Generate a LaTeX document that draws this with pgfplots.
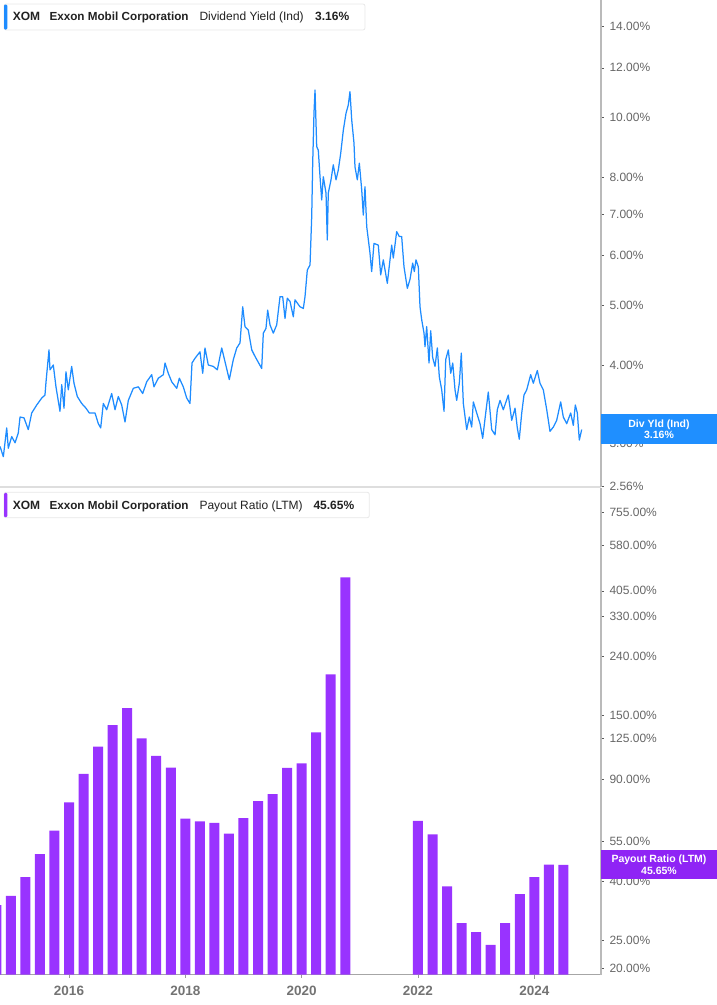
\documentclass[border=0pt]{standalone}
\usepackage{fontspec}
\setmainfont{Liberation Sans}
\usepackage{pgfplots}
\pgfplotsset{compat=1.18}
\definecolor{lineblue}{HTML}{1E8CFF}
\definecolor{boxblue}{HTML}{1F8FFF}
\definecolor{barpurple}{HTML}{9933FF}
\definecolor{boxpurple}{HTML}{8F24F5}
\definecolor{ticktext}{HTML}{666666}
\definecolor{legtext}{HTML}{222222}

\pgfplotsset{
  panel/.style={
    scale only axis, width=601pt,
    xmin=2014.8136, xmax=2025.147,
    axis y line*=right,
    axis x line*=bottom,
    tick align=outside,
    major tick length=3pt,
    yticklabel style={font=\fontsize{12}{14}\selectfont, text=ticktext, xshift=2pt},
    ytick style={draw=black!65, line width=0.6pt},
    y axis line style={draw=black!27, line width=1.6pt},
  }
}
\tikzset{lg/.style={anchor=base west, inner sep=0pt, text=legtext, font=\fontsize{12}{14}\selectfont}}

\begin{document}
\begin{tikzpicture}
\useasboundingbox (0pt,0pt) rectangle (717pt,-1005pt);

% dividend yield
\begin{axis}[ymode=log, panel, at={(0pt,0pt)}, anchor=north west, height=487pt,
  ymin=2.557, ymax=15.41,
  xtick=\empty,
  x axis line style={draw=black!13, line width=1.5pt},
  ytick={2.56,3,4,5,6,7,8,10,12,14},
  yticklabels={2.56\%,3.00\%,4.00\%,5.00\%,6.00\%,7.00\%,8.00\%,10.00\%,12.00\%,14.00\%},
  yminorticks=false]
\addplot[lineblue, line width=1.25pt, line join=round] coordinates {
(2014.814,2.97) (2014.871,2.86) (2014.929,3.18) (2014.956,2.95) (2015.015,3.08) (2015.072,3.01)
(2015.128,3.12) (2015.158,3.31) (2015.226,3.30) (2015.300,3.16) (2015.359,3.36) (2015.445,3.46)
(2015.531,3.55) (2015.587,3.59) (2015.605,3.77) (2015.656,4.24) (2015.673,3.94) (2015.730,4.01)
(2015.776,3.70) (2015.845,3.38) (2015.875,3.73) (2015.914,3.42) (2015.948,3.91) (2015.988,3.66)
(2016.046,3.99) (2016.086,3.75) (2016.143,3.57) (2016.218,3.48) (2016.292,3.42) (2016.349,3.36)
(2016.447,3.36) (2016.504,3.23) (2016.545,3.18) (2016.590,3.48) (2016.648,3.40) (2016.734,3.61)
(2016.791,3.40) (2016.848,3.57) (2016.906,3.46) (2016.963,3.25) (2017.020,3.52) (2017.106,3.68)
(2017.192,3.70) (2017.267,3.61) (2017.336,3.77) (2017.422,3.87) (2017.461,3.70) (2017.536,3.82)
(2017.622,3.87) (2017.651,4.04) (2017.707,3.89) (2017.766,3.77) (2017.852,3.68) (2017.897,3.82)
(2017.965,3.70) (2018.024,3.55) (2018.080,3.48) (2018.115,4.04) (2018.166,4.11) (2018.252,4.21)
(2018.299,3.89) (2018.338,4.27) (2018.395,4.01) (2018.481,3.99) (2018.550,3.94) (2018.626,4.27)
(2018.682,4.06) (2018.756,3.80) (2018.825,4.09) (2018.884,4.27) (2018.940,4.35) (2018.987,4.97)
(2019.026,4.62) (2019.083,4.56) (2019.142,4.24) (2019.198,4.14) (2019.313,3.96) (2019.341,4.51)
(2019.387,4.59) (2019.416,4.91) (2019.456,4.65) (2019.513,4.51) (2019.571,4.65) (2019.628,5.16)
(2019.674,5.16) (2019.714,4.76) (2019.753,5.13) (2019.800,5.07) (2019.857,4.79) (2019.886,5.10)
(2019.972,4.97) (2020.029,4.94) (2020.058,5.16) (2020.097,5.69) (2020.144,5.80) (2020.173,6.93)
(2020.190,8.44) (2020.212,10.15) (2020.230,11.06) (2020.259,8.97) (2020.286,8.86) (2020.316,8.03)
(2020.345,7.37) (2020.372,8.03) (2020.419,7.56) (2020.441,6.36) (2020.458,7.56) (2020.505,7.94)
(2020.544,8.39) (2020.591,7.94) (2020.630,8.23) (2020.672,8.76) (2020.717,9.54) (2020.763,10.15)
(2020.802,10.46) (2020.831,10.99) (2020.861,9.90) (2020.900,9.09) (2020.917,8.33) (2020.957,7.94)
(2020.992,8.44) (2021.033,7.65) (2021.060,6.97) (2021.089,7.74) (2021.119,6.68) (2021.175,6.06)
(2021.204,5.66) (2021.244,6.28) (2021.318,6.24) (2021.359,5.59) (2021.404,5.91) (2021.473,5.42)
(2021.548,6.24) (2021.576,5.95) (2021.634,6.56) (2021.679,6.44) (2021.720,6.44) (2021.760,5.76)
(2021.817,5.32) (2021.863,5.50) (2021.909,5.84) (2021.937,5.66) (2021.966,5.91) (2022.006,5.76)
(2022.035,4.97) (2022.064,4.74) (2022.104,4.51) (2022.121,4.29) (2022.150,4.62) (2022.190,4.04)
(2022.219,4.55) (2022.253,4.12) (2022.293,3.99) (2022.333,4.27) (2022.367,3.84) (2022.408,3.66)
(2022.448,3.38) (2022.477,4.09) (2022.522,4.24) (2022.563,3.89) (2022.598,4.04) (2022.637,3.66)
(2022.666,3.52) (2022.711,3.75) (2022.745,4.19) (2022.780,3.48) (2022.838,3.16) (2022.883,3.31)
(2022.924,3.19) (2022.952,3.50) (2023.010,3.36) (2023.067,3.23) (2023.113,3.06) (2023.153,3.29)
(2023.209,3.63) (2023.268,3.16) (2023.325,3.10) (2023.364,3.40) (2023.411,3.52) (2023.467,3.40)
(2023.553,3.59) (2023.612,3.27) (2023.669,3.42) (2023.708,3.18) (2023.742,3.05) (2023.784,3.36)
(2023.823,3.59) (2023.870,3.66) (2023.938,3.87) (2023.983,3.75) (2024.052,3.93) (2024.098,3.75)
(2024.155,3.66) (2024.214,3.40) (2024.270,3.14) (2024.327,3.19) (2024.385,3.27) (2024.454,3.50)
(2024.499,3.31) (2024.557,3.23) (2024.626,3.36) (2024.671,3.21) (2024.705,3.46) (2024.740,3.36)
(2024.774,3.04) (2024.815,3.16)
};
\end{axis}

% payout ratio
\begin{axis}[ymode=log, panel, at={(0pt,-488pt)}, anchor=north west, height=486.5pt,
  ymin=19.04, ymax=918.8, log origin=infty,
  xtick={2016,2018,2020,2022,2024},
  xticklabels={2016,2018,2020,2022,2024},
  xticklabel style={font=\bfseries\fontsize{13.5}{15}\selectfont, text=black!55, yshift=-5pt},
  xtick style={draw=black!40, line width=0.8pt, shorten >=-1pt, shorten <=-1pt},
  x axis line style={draw=black!35, line width=1.5pt},
  ytick={20,25,40,55,90,125,150,240,330,405,580,755},
  yticklabels={20.00\%,25.00\%,40.00\%,55.00\%,90.00\%,125.00\%,150.00\%,240.00\%,330.00\%,405.00\%,580.00\%,755.00\%},
  yminorticks=false]
\addplot[ybar, bar width=10pt, fill=barpurple, draw=none] coordinates {
(2014.75,33.1) (2015.00,35.6) (2015.25,41.4) (2015.50,49.7) (2015.75,59.9) (2016.00,75.1)
(2016.25,94.1) (2016.50,116.9) (2016.75,139.0) (2017.00,159.1) (2017.25,125.0) (2017.50,108.6)
(2017.75,98.9) (2018.00,65.9) (2018.25,64.5) (2018.50,63.8) (2018.75,58.5) (2019.00,66.2)
(2019.25,75.8) (2019.50,80.2) (2019.75,98.7) (2020.00,102.4) (2020.25,131.1) (2020.50,208.2)
(2020.75,451.1)
(2022.00,64.7) (2022.25,58.2) (2022.50,38.4) (2022.75,28.7) (2023.00,26.7) (2023.25,24.1)
(2023.50,28.7) (2023.75,36.1) (2024.00,41.4) (2024.25,45.7) (2024.50,45.65)
};
\end{axis}

% headers
\draw[draw=black!9, fill=white, rounded corners=2pt, line width=0.8pt] (4pt,-4pt) rectangle (365pt,-30pt);
\fill[lineblue, rounded corners=1.2pt] (4pt,-4.5pt) rectangle (7.3pt,-29.5pt);
\node[lg, font=\bfseries\fontsize{12}{14}\selectfont] at (12.7pt,-20.9pt) {XOM};
\node[lg, font=\bfseries\fontsize{11.7}{14}\selectfont] at (49.3pt,-20.9pt) {Exxon Mobil Corporation};
\node[lg] at (199.3pt,-20.9pt) {Dividend Yield (Ind)};
\node[lg, font=\bfseries\fontsize{12}{14}\selectfont] at (315pt,-20.9pt) {3.16\%};

\draw[draw=black!9, fill=white, rounded corners=2pt, line width=0.8pt] (4pt,-492.3pt) rectangle (369.3pt,-517.7pt);
\fill[barpurple, rounded corners=1.2pt] (4pt,-492.8pt) rectangle (7.3pt,-517.2pt);
\node[lg, font=\bfseries\fontsize{12}{14}\selectfont] at (12.7pt,-509pt) {XOM};
\node[lg, font=\bfseries\fontsize{11.7}{14}\selectfont] at (49.3pt,-509pt) {Exxon Mobil Corporation};
\node[lg] at (199.3pt,-509pt) {Payout Ratio (LTM)};
\node[lg, font=\bfseries\fontsize{12}{14}\selectfont] at (313.3pt,-509pt) {45.65\%};

% last value tags
\fill[boxblue] (601pt,-414pt) rectangle (717pt,-444pt);
\node[align=center, inner sep=0pt, text=white, font=\bfseries\fontsize{10.5}{11.5}\selectfont] at (659pt,-429pt) {Div Yld (Ind)\\3.16\%};
\fill[boxpurple] (601pt,-850pt) rectangle (717pt,-879pt);
\node[align=center, inner sep=0pt, text=white, font=\bfseries\fontsize{10.5}{11.5}\selectfont] at (659pt,-864.5pt) {Payout Ratio (LTM)\\45.65\%};
\end{tikzpicture}
\end{document}
